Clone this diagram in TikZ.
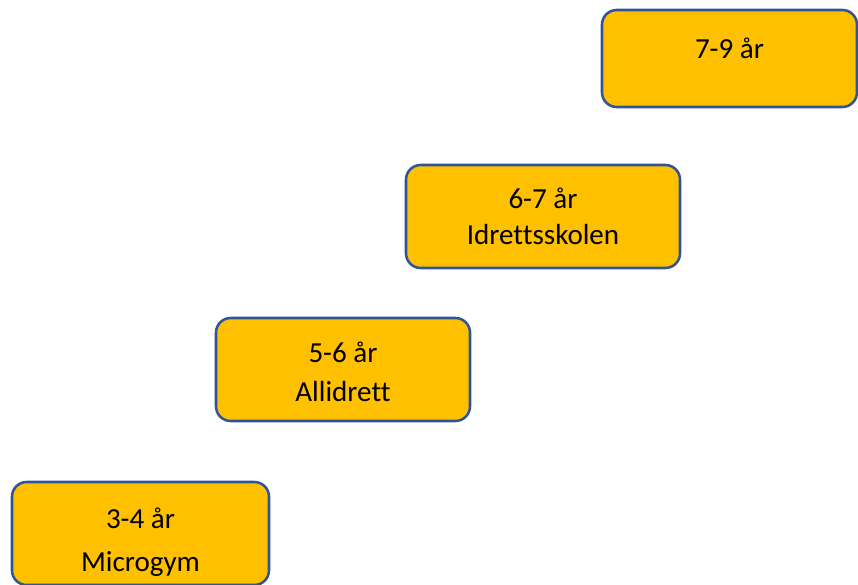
\documentclass[tikz,border=0pt]{standalone}
\usepackage{fontspec}
\setmainfont[Ligatures={NoCommon}]{Carlito}
\definecolor{boxfill}{HTML}{FFC000}
\definecolor{boxline}{HTML}{2F5597}
\tikzset{
    agebox/.style={draw=boxline, fill=boxfill, line width=1.9pt, rounded corners=11pt, inner sep=0pt},
    agetext/.style={anchor=base, inner sep=0pt, font=\fontsize{21.8pt}{26pt}\selectfont}
}
\begin{document}
\begin{tikzpicture}[x=0.75pt, y=-0.75pt]
    \useasboundingbox (0,0) rectangle (858,585);
    \clip (0,0) rectangle (858,585);

    % Boxes, one per age group
    \node[agebox, minimum width=191.25pt, minimum height=72.75pt] (b79) at (729.5, 58.5) {};
    \node[agebox, minimum width=205.5pt, minimum height=77.25pt] (b67) at (543, 216.5) {};
    \node[agebox, minimum width=190.5pt, minimum height=77.25pt] (b56) at (343, 369.5) {};
    \node[agebox, minimum width=192.75pt, minimum height=77.25pt] (b34) at (140.5, 533.5) {};

    % Texts inside the boxes
    \node[agetext] (t79) at (729.5, 59) {7-9 år};
    \node[agetext] (t67) at (543, 209) {6-7 år};
    \node[agetext] (n67) at (543, 244) {Idrettsskolen};
    \node[agetext] (t56) at (343, 362) {5-6 år};
    \node[agetext] (n56) at (343, 401) {Allidrett};
    \node[agetext] (t34) at (140.5, 528) {3-4 år};
    \node[agetext] (n34) at (140.5, 571) {Microgym};
\end{tikzpicture}
\end{document}
